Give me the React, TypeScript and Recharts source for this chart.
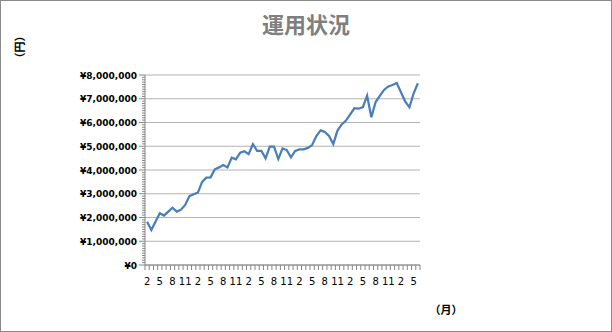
import React from "react";
import { LineChart, Line, XAxis, YAxis, CartesianGrid } from "recharts";

// months, Feb of year 1 through Jun of year 6
const months = [
  2, 3, 4, 5, 6, 7, 8, 9, 10, 11, 12, 1,
  2, 3, 4, 5, 6, 7, 8, 9, 10, 11, 12, 1,
  2, 3, 4, 5, 6, 7, 8, 9, 10, 11, 12, 1,
  2, 3, 4, 5, 6, 7, 8, 9, 10, 11, 12, 1,
  2, 3, 4, 5, 6, 7, 8, 9, 10, 11, 12, 1,
  2, 3, 4, 5, 6,
];

// balance in yen
const balance = [
  1820000, 1470000, 1830000, 2180000, 2080000, 2250000, 2410000, 2250000, 2330000, 2530000, 2900000, 2980000,
  3050000, 3500000, 3680000, 3690000, 4030000, 4110000, 4210000, 4110000, 4520000, 4450000, 4730000, 4790000,
  4670000, 5090000, 4810000, 4810000, 4490000, 4980000, 4980000, 4460000, 4910000, 4840000, 4530000, 4800000,
  4870000, 4870000, 4930000, 5050000, 5430000, 5670000, 5600000, 5430000, 5090000, 5660000, 5920000, 6080000,
  6340000, 6600000, 6580000, 6650000, 7130000, 6220000, 6860000, 7120000, 7370000, 7520000, 7580000, 7660000,
  7270000, 6890000, 6640000, 7230000, 7650000,
];

const yMajorTicks = [0, 1000000, 2000000, 3000000, 4000000, 5000000, 6000000, 7000000, 8000000];
const yMinorStep = 100000;
const yAllTicks = Array.from({ length: 81 }, (_, i) => i * yMinorStep);

const data = months.map((m, i) => ({ m, value: balance[i] }));

const AXIS = "#868686";
const Y_TICK_SIZE = 6;
const Y_TICK_MARGIN = 2;
const X_TICK_SIZE = 5;
const X_TICK_MARGIN = 8;
const HALF = 2.115;

const yen = (v: number) => "¥" + v.toLocaleString("en-US");

const YTick = (props: any) => {
  const { x, y, payload } = props;
  const v = payload.value;
  const major = v % 1000000 === 0;
  const axisX = x + Y_TICK_SIZE + Y_TICK_MARGIN;
  return (
    <g>
      <line x1={axisX - (major ? 6 : 3)} x2={axisX} y1={y} y2={y} stroke={AXIS} />
      {major && (
        <text
          x={x}
          y={y}
          dy={3.5}
          textAnchor="end"
          fontFamily="DejaVu Sans"
          fontWeight="bold"
          fontSize={9}
          fill="#000"
        >
          {yen(v)}
        </text>
      )}
    </g>
  );
};

const XTick = (props: any) => {
  const { x, y, payload, index } = props;
  const axisY = y - X_TICK_SIZE - X_TICK_MARGIN;
  return (
    <g>
      <line x1={x - HALF} x2={x - HALF} y1={axisY} y2={axisY + 5} stroke={AXIS} />
      {index === months.length - 1 && (
        <line x1={x + HALF} x2={x + HALF} y1={axisY} y2={axisY + 5} stroke={AXIS} />
      )}
      {index % 3 === 0 && (
        <text
          x={x}
          y={axisY + 20}
          textAnchor="middle"
          fontFamily="DejaVu Sans"
          fontSize={10}
          fill="#000"
        >
          {payload.value}
        </text>
      )}
    </g>
  );
};

export default function App() {
  return (
    <div
      style={{
        position: "absolute",
        left: 0,
        top: 0,
        width: 612,
        height: 332,
        border: "1px solid #8a8a8a",
        boxSizing: "border-box",
        background: "#fff",
      }}
    >
      <div
        style={{
          position: "absolute",
          left: 0,
          top: 11,
          width: 610,
          textAlign: "center",
          fontFamily: "'Noto Sans CJK JP'",
          fontWeight: "bold",
          fontSize: 22,
          lineHeight: "22px",
          color: "#7f7f7f",
        }}
      >
        運用状況
      </div>
      <div
        style={{
          position: "absolute",
          left: 0,
          top: 39,
          width: 36,
          height: 14,
          transform: "rotate(-90deg)",
          textAlign: "center",
          fontFamily: "'Noto Sans CJK JP'",
          fontWeight: "bold",
          fontSize: 11,
          lineHeight: "14px",
        }}
      >
        （円）
      </div>
      <div
        style={{
          position: "absolute",
          left: 427,
          top: 301,
          width: 36,
          textAlign: "center",
          fontFamily: "'Noto Sans CJK JP'",
          fontWeight: "bold",
          fontSize: 11,
          lineHeight: "14px",
        }}
      >
        （月）
      </div>
      <LineChart
        width={610}
        height={330}
        data={data}
        margin={{ top: 74, right: 191, bottom: 36, left: 0 }}
      >
        <CartesianGrid vertical={false} horizontalValues={yMajorTicks} stroke="#b3b3b3" />
        <XAxis
          dataKey="m"
          interval={0}
          height={30}
          padding={{ left: HALF, right: HALF }}
          axisLine={{ stroke: AXIS }}
          tickLine={false}
          tickSize={X_TICK_SIZE}
          tickMargin={X_TICK_MARGIN}
          tick={<XTick />}
        />
        <YAxis
          width={144}
          domain={[0, 8000000]}
          ticks={yAllTicks}
          interval={0}
          axisLine={{ stroke: AXIS }}
          tickLine={false}
          tickSize={Y_TICK_SIZE}
          tickMargin={Y_TICK_MARGIN}
          tick={<YTick />}
        />
        <Line
          type="linear"
          dataKey="value"
          stroke="#4a7ebb"
          strokeWidth={2.25}
          dot={false}
          isAnimationActive={false}
        />
      </LineChart>
    </div>
  );
}
